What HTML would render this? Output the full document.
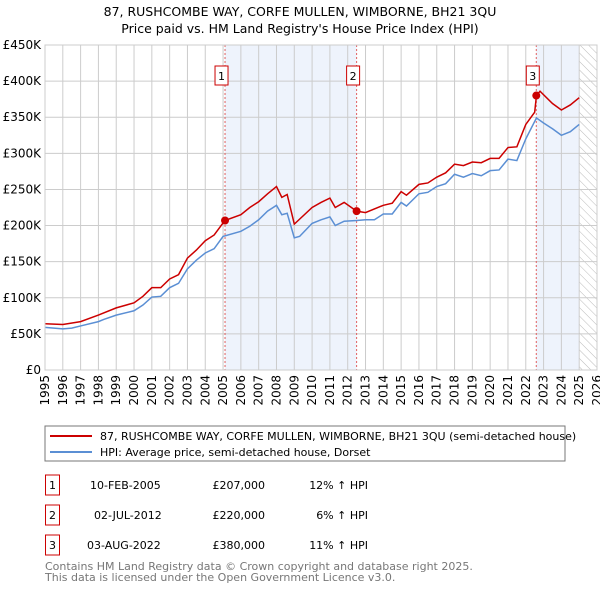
<!DOCTYPE html>
<html><head><meta charset="utf-8"><style>
body{margin:0;background:#fff;font-family:"Liberation Sans","DejaVu Sans",sans-serif}
svg text{font-family:"DejaVu Sans","Liberation Sans",sans-serif}
</style></head><body>
<svg id="c" width="600" height="590" viewBox="0 0 600 590" xmlns="http://www.w3.org/2000/svg">
<defs><pattern id="h" width="6" height="6" patternUnits="userSpaceOnUse" patternTransform="rotate(-45)"><line x1="0" y1="0" x2="0" y2="6" stroke="#bbb" stroke-width="1"/></pattern></defs>
<text x="300" y="16" text-anchor="middle" font-size="12.5" fill="#000">87, RUSHCOMBE WAY, CORFE MULLEN, WIMBORNE, BH21 3QU</text>
<text x="300" y="33" text-anchor="middle" font-size="12.5" fill="#000">Price paid vs. HM Land Registry's House Price Index (HPI)</text>
<g id="plot"></g>
<rect x="45" y="426" width="520" height="35" fill="#fff" stroke="#777"/>
<line x1="50" y1="436" x2="92" y2="436" stroke="#cc0000" stroke-width="2"/>
<text x="100" y="440" font-size="11">87, RUSHCOMBE WAY, CORFE MULLEN, WIMBORNE, BH21 3QU (semi-detached house)</text>
<line x1="50" y1="452" x2="92" y2="452" stroke="#5b8fd4" stroke-width="2"/>
<text x="100" y="456" font-size="11">HPI: Average price, semi-detached house, Dorset</text>
<g font-size="11">
<rect x="45.5" y="475" width="14" height="20" fill="#fff" stroke="#cc0000"/><text x="52.5" y="489" text-anchor="middle">1</text>
<text x="90" y="489">10-FEB-2005</text><text x="265" y="489" text-anchor="end">£207,000</text><text x="368" y="489" text-anchor="end">12% ↑ HPI</text>
<rect x="45.5" y="505" width="14" height="20" fill="#fff" stroke="#cc0000"/><text x="52.5" y="519" text-anchor="middle">2</text>
<text x="94" y="519">02-JUL-2012</text><text x="265" y="519" text-anchor="end">£220,000</text><text x="368" y="519" text-anchor="end">6% ↑ HPI</text>
<rect x="45.5" y="535" width="14" height="20" fill="#fff" stroke="#cc0000"/><text x="52.5" y="549" text-anchor="middle">3</text>
<text x="87" y="549">03-AUG-2022</text><text x="265" y="549" text-anchor="end">£380,000</text><text x="368" y="549" text-anchor="end">11% ↑ HPI</text>
</g>
<text x="45" y="570" font-size="11" fill="#777">Contains HM Land Registry data © Crown copyright and database right 2025.</text>
<text x="45" y="581" font-size="11" fill="#777">This data is licensed under the Open Government Licence v3.0.</text>
</svg>
<script>
const hpiYears=[1995,1996,1996.5,1997,1998,1998.3,1999,2000,2000.5,2001,2001.5,2002,2002.5,2003,2003.5,2004,2004.5,2005,2006,2006.5,2007,2007.5,2008,2008.3,2008.6,2009,2009.3,2010,2010.5,2011,2011.3,2011.8,2012.5,2013,2013.5,2014,2014.5,2015,2015.3,2016,2016.5,2017,2017.5,2018,2018.5,2019,2019.5,2020,2020.5,2021,2021.5,2022,2022.6,2023,2023.5,2024,2024.5,2025];
const hpiValues=[59,57,58,61,67,70,76,82,90,101,102,114,120,140,152,162,168,185,192,199,208,220,228,215,217,183,185,203,208,212,200,206,207,208,208,216,216,232,227,244,246,254,258,271,267,272,269,276,277,292,290,320,349,342,334,325,330,340];
const propYears=[1995,1996,1997,1998,1999,2000,2000.5,2001,2001.5,2002,2002.5,2003,2003.5,2004,2004.5,2005.1,2006,2006.5,2007,2007.5,2008,2008.3,2008.6,2009,2010,2010.5,2011,2011.3,2011.8,2012.5,2013,2014,2014.5,2015,2015.3,2016,2016.5,2017,2017.5,2018,2018.5,2019,2019.5,2020,2020.5,2021,2021.5,2022,2022.5,2022.6,2022.8,2023.5,2024,2024.5,2025];
const propValues=[64,63,67,76,86,93,102,114,114,126,132,155,166,179,187,207,215,225,233,244,254,239,243,202,225,232,238,225,232,220,218,228,231,247,242,257,259,267,273,285,283,288,287,293,293,308,309,340,357,380,386,369,360,367,377];
const saleYears=[2005.11,2012.5,2022.59];
const saleValues=[207,220,380];
const saleLabels=["1","2","3"];
const yTicks=[0,50,100,150,200,250,300,350,400,450];
const yTickLabels=["£0","£50K","£100K","£150K","£200K","£250K","£300K","£350K","£400K","£450K"];
const xTicks=[1995,1996,1997,1998,1999,2000,2001,2002,2003,2004,2005,2006,2007,2008,2009,2010,2011,2012,2013,2014,2015,2016,2017,2018,2019,2020,2021,2022,2023,2024,2025,2026];
const L=45,R=597,T=45,B=370;
const X=y=>L+(y-1995)/(2026-1995)*(R-L);
const Y=v=>B-v/450*(B-T);
const NS="http://www.w3.org/2000/svg",g=document.getElementById('plot');
function mk(t,a){const e=document.createElementNS(NS,t);for(const k in a)e.setAttribute(k,a[k]);g.appendChild(e);return e;}
let e;
e=mk('rect',{x:X(saleYears[0]),y:T,width:X(saleYears[1])-X(saleYears[0]),height:B-T,fill:'#eef3fc'});


e=mk('rect',{x:X(saleYears[2]),y:T,width:X(2025)-X(saleYears[2]),height:B-T,fill:'#eef3fc'});


e=mk('rect',{x:X(2025),y:T,width:X(2026)-X(2025),height:B-T,fill:'url(#h)'});


yTicks.forEach((v,i)=>{
 e=mk('line',{x1:L,x2:R,y1:Y(v),y2:Y(v),stroke:'#ccc','stroke-width':1});
 
 
 e=mk('text',{x:L-4,y:Y(v)+4,'text-anchor':'end','font-size':12});e.textContent=yTickLabels[i];
 
 
});
xTicks.forEach(y=>{
 e=mk('line',{x1:X(y),x2:X(y),y1:T,y2:B,stroke:'#ccc','stroke-width':1});
 
 
 e=mk('text',{transform:`translate(${X(y)+4},${B+5}) rotate(-90)`,'text-anchor':'end','font-size':12});e.textContent=y;
 
 
});
saleYears.forEach((y,i)=>{
 e=mk('line',{x1:X(y),x2:X(y),y1:T,y2:B,stroke:'#e06060','stroke-width':1,'stroke-dasharray':'2,2'});
 
 
 e=mk('rect',{x:X(y)-10,y:66,width:13,height:19,fill:'#fff',stroke:'#cc0000'});
 
 
 e=mk('text',{x:X(y)-3.5,y:80,'text-anchor':'middle','font-size':11});e.textContent=saleLabels[i];
 
 
});
e=mk('polyline',{points:hpiYears.map((y,i)=>X(y)+','+Y(hpiValues[i])).join(' '),fill:'none',stroke:'#5b8fd4','stroke-width':1.5});


e=mk('polyline',{points:propYears.map((y,i)=>X(y)+','+Y(propValues[i])).join(' '),fill:'none',stroke:'#cc0000','stroke-width':1.5});


saleYears.forEach((y,i)=>{
 e=mk('circle',{cx:X(y),cy:Y(saleValues[i]),r:4,fill:'#cc0000'});
 
 
});
e=mk('rect',{x:L,y:T,width:R-L,height:B-T,fill:'none',stroke:'#ccc'});


</script>
</body></html>
